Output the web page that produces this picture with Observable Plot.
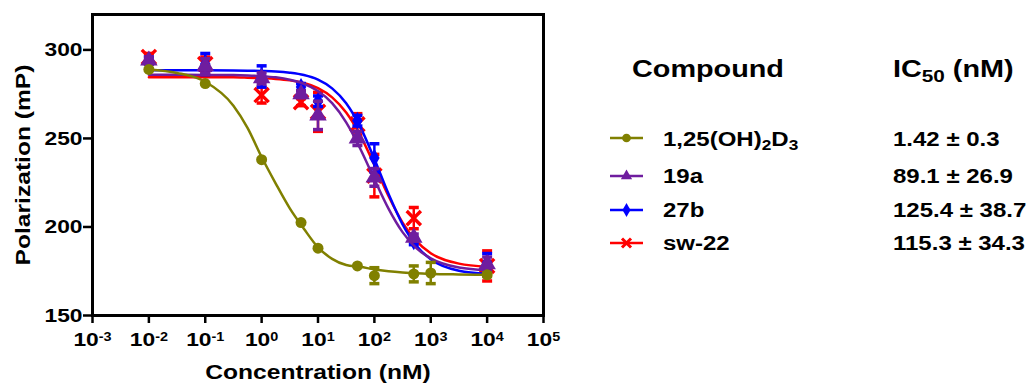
<!DOCTYPE html>
<html><head><meta charset="utf-8">
<script src="https://cdn.jsdelivr.net/npm/d3@7"></script>
<script src="https://cdn.jsdelivr.net/npm/@observablehq/plot@0.6"></script>
<style>
html,body{margin:0;padding:0;background:#fff;}
#wrap{position:relative;width:1032px;height:384px;font-family:"Liberation Sans",Arial,sans-serif;font-weight:bold;color:#000;overflow:hidden;}
#chart{position:absolute;left:0;top:0;}
.lg{position:absolute;white-space:nowrap;transform-origin:0 0;transform:scaleX(1.2);line-height:1;}
.lg sub{font-size:0.72em;vertical-align:-0.28em;line-height:1;}
[aria-label="x-axis tick"], [aria-label="y-axis tick"]{stroke-width:2.5px;stroke:#000;}
[aria-label="x-axis"] .tick line, [aria-label="y-axis"] .tick line{stroke-width:2.5px;}
</style></head><body>
<div id="wrap"><div id="chart"></div><div id="legend"></div></div>
<script>
// ---------- data ----------
const seriesNames = ["1,25(OH)2D3", "19a", "27b", "sw-22"];
const legendLabels = ["1,25(OH)<sub>2</sub>D<sub>3</sub>", "19a", "27b", "sw-22"];
const ic50Labels = ["1.42 ± 0.3", "89.1 ± 26.9", "125.4 ± 38.7", "115.3 ± 34.3"];
const seriesColors = ["#808000", "#6f1d9f", "#0000ff", "#ff0000"];
const seriesSymbols = ["circle", "triangle", "diamond", "times"];

const concD3 = [0.01, 0.1, 1, 5, 10, 50, 100, 500, 1000, 10000];
const meanD3 = [289, 281, 238, 202.5, 188, 178, 172.5, 173.5, 174, 173];
const semD3  = [0, 0, 0, 0, 0, 0, 4.5, 4.5, 6, 1];

const concOthers = [0.01, 0.1, 1, 5, 10, 50, 100, 500, 10000];
const mean19a  = [294, 291, 284, 275, 263, 250, 228, 194, 179];
const sem19a   = [2, 4, 3, 2, 8, 4, 5, 2, 4];
const mean27b  = [294, 292, 285, 279, 271, 260, 239, 192, 180];
const sem27b   = [2, 6, 6, 2, 3, 3, 8, 2, 5];
const meanSw22 = [296, 292, 274.5, 270.5, 265, 258, 229, 205, 178];
const semSw22  = [2, 4, 4.5, 2, 11, 6, 12, 6, 8.5];

// fitted curves at these concentrations
const fitConc = [0.01, 0.0316, 0.1, 0.316, 0.562, 1, 1.78, 3.16, 5.62, 10, 17.8, 31.6, 56.2, 100, 178, 316, 562, 1000, 3162, 10000];
const fitD3   = [289, 287, 282, 268.5, 256, 239.5, 224.5, 210.5, 199, 188.5, 182, 178.5, 177.5, 176, 175, 174.3, 173.8, 173.5, 173.2, 173];
const fit19a  = [286, 286, 285.9, 285.8, 285.6, 285.2, 284.5, 283.2, 280.9, 276.8, 269.9, 259.1, 244.2, 227, 210.4, 197.1, 187.9, 182.3, 177.1, 175.6];
const fit27b  = [288.5, 288.5, 288.5, 288.4, 288.3, 288.1, 287.8, 287.1, 285.8, 283.2, 278.3, 269.9, 256.5, 238.4, 218.7, 201.5, 189.3, 181.8, 175.3, 173.6];
const fitSw22 = [284.5, 284.5, 284.5, 284.5, 284.3, 284, 283.6, 282.8, 281.3, 278.4, 273.2, 264.6, 251.7, 235, 217.5, 202.5, 191.9, 185.2, 179.3, 177.6];

const xTicks = [1e-3, 1e-2, 1e-1, 1, 1e1, 1e2, 1e3, 1e4, 1e5];
const xTickBase = "10";
const xTickExps = ["-3", "-2", "-1", "0", "1", "2", "3", "4", "5"];
const yTicks = [150, 200, 250, 300];
const xTitle = "Concentration (nM)";
const yTitle = "Polarization (mP)";
const headerCompound = "Compound";
const headerIC = "IC<sub>50</sub> (nM)";

// ---------- build ----------
function pts(conc, mean, sem) {
  return conc.map((c, i) => ({c, v: mean[i], lo: mean[i] - sem[i], hi: mean[i] + sem[i], sem: sem[i]}));
}
function fit(vals) { return fitConc.map((c, i) => ({c, v: vals[i]})); }

const series = [
  {p: pts(concD3, meanD3, semD3), f: fit(fitD3)},
  {p: pts(concOthers, mean19a, sem19a), f: fit(fit19a)},
  {p: pts(concOthers, mean27b, sem27b), f: fit(fit27b)},
  {p: pts(concOthers, meanSw22, semSw22), f: fit(fitSw22)}
];
const drawOrder = [3, 2, 1, 0];
const capSymbol = {draw(ctx, size) { const w = Math.sqrt(size / Math.PI); ctx.moveTo(-w, 0); ctx.lineTo(w, 0); }};

const marks = [];
for (const k of drawOrder) {
  const s = series[k], col = seriesColors[k], sym = seriesSymbols[k];
  const eb = s.p.filter(d => d.sem > 0);
  marks.push(Plot.line(s.f, {x: "c", y: "v", stroke: col, strokeWidth: 2.5, curve: "monotone-x"}));
  marks.push(Plot.ruleX(eb, {x: "c", y1: "lo", y2: "hi", stroke: col, strokeWidth: 2.5}));
  marks.push(Plot.dot(eb, {x: "c", y: "hi", symbol: capSymbol, r: 5, stroke: col, strokeWidth: 3.5, fill: "none"}));
  marks.push(Plot.dot(eb, {x: "c", y: "lo", symbol: capSymbol, r: 5, stroke: col, strokeWidth: 3.5, fill: "none"}));
  if (sym === "times") {
    marks.push(Plot.dot(s.p, {x: "c", y: "v", symbol: "times", r: 6.5, stroke: col, strokeWidth: 3.4}));
  } else {
    const r = sym === "circle" ? 5.5 : sym === "triangle" ? 6.5 : 5.5;
    marks.push(Plot.dot(s.p, {x: "c", y: "v", symbol: sym, r, fill: col, stroke: "none"}));
  }
}
marks.push(Plot.frame({stroke: "#000", strokeWidth: 3}));
marks.push(Plot.text([yTitle], {frameAnchor: "left", dx: -69, rotate: -90, text: d => d, textAnchor: "middle", lineAnchor: "middle", fontSize: 20.5, fontWeight: "bold", fill: "#000"}));
marks.push(Plot.text([xTitle], {frameAnchor: "bottom", dy: 57, text: d => d, textAnchor: "middle", lineAnchor: "middle", fontSize: 20.5, fontWeight: "bold", fill: "#000"}));

const chart = Plot.plot({
  width: 600, height: 384,
  marginLeft: 92, marginRight: 57, marginTop: 14, marginBottom: 69,
  style: {fontFamily: "'Liberation Sans', Arial, sans-serif", fontSize: "19px", fontWeight: "bold", color: "#000", background: "#fff"},
  x: {type: "log", domain: [1e-3, 1e5], ticks: xTicks, tickSize: 8, tickPadding: 9,
      tickFormat: d => xTickBase + "|" + xTickExps[Math.round(Math.log10(d)) + 3], label: null},
  y: {domain: [150, 320], ticks: yTicks, tickSize: 9, tickPadding: 1, label: null},
  marks
});
document.getElementById("chart").appendChild(chart);

// superscript exponents on x tick labels
chart.querySelectorAll('[aria-label="x-axis tick label"] text, [aria-label="x-axis"] .tick text').forEach(t => {
  const s = t.textContent;
  if (!s.includes("|")) return;
  const [base, exp] = s.split("|");
  t.textContent = "";
  const a = document.createElementNS("http://www.w3.org/2000/svg", "tspan");
  a.textContent = base;
  const b = document.createElementNS("http://www.w3.org/2000/svg", "tspan");
  b.textContent = exp; b.setAttribute("dy", "-0.45em"); b.setAttribute("font-size", "12px");
  t.appendChild(a); t.appendChild(b);
});
// horizontal stretch of glyphs, as in the reference (along each text's own direction)
chart.querySelectorAll("text").forEach(t => {
  const len = t.getComputedTextLength();
  if (len > 0) {
    t.setAttribute("textLength", (len * 1.2).toFixed(2));
    t.setAttribute("lengthAdjust", "spacingAndGlyphs");
  }
});

// ---------- legend ----------
const legend = document.getElementById("legend");
function addText(html, left, baseline, fs) {
  const d = document.createElement("div");
  d.className = "lg"; d.innerHTML = html;
  d.style.left = left + "px"; d.style.top = (baseline - 0.8465 * fs) + "px"; d.style.fontSize = fs + "px";
  legend.appendChild(d);
}
addText(headerCompound, 632, 77, 24);
addText(headerIC, 893, 77, 24);
const rowBase = [146, 182.5, 216.5, 250];
const rowMid = [138, 176, 210, 243];
rowBase.forEach((b, i) => { addText(legendLabels[i], 663, b, 20); addText(ic50Labels[i], 893, b, 20); });

const ls = d3.select(legend).append("svg").attr("width", 1032).attr("height", 384)
  .style("position", "absolute").style("left", "0px").style("top", "0px");
const d3sym = {circle: d3.symbolCircle, triangle: d3.symbolTriangle, diamond: d3.symbolDiamond, times: d3.symbolTimes};
seriesNames.forEach((n, i) => {
  const y = rowMid[i], col = seriesColors[i];
  ls.append("line").attr("x1", 610).attr("x2", 643).attr("y1", y).attr("y2", y).attr("stroke", col).attr("stroke-width", 2.5);
  const sym = seriesSymbols[i];
  const p = ls.append("path").attr("transform", `translate(626.5,${y})`)
    .attr("d", d3.symbol(d3sym[sym], sym === "times" ? 55 : sym === "circle" ? 60 : 55)());
  if (sym === "times") p.attr("fill", "none").attr("stroke", col).attr("stroke-width", 3);
  else p.attr("fill", col);
});
</script></body></html>
